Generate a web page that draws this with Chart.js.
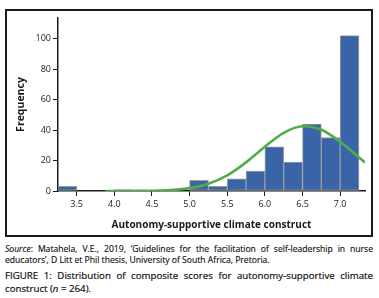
<!DOCTYPE html>
<html>
<head>
<meta charset="utf-8">
<script src="https://cdn.jsdelivr.net/npm/chart.js@4/dist/chart.umd.min.js"></script>
<style>
  html, body { margin: 0; padding: 0; background: #fff; }
  body { width: 379px; height: 298px; position: relative; overflow: hidden; font-family: "Open Sans", sans-serif; color: #111; }
  #frame { position: absolute; left: 5px; top: 9px; width: 364px; height: 224px; border: 2px solid #1a1a1a; }
  #wrap { position: absolute; left: 6px; top: 10px; width: 366px; height: 226px; }
  .cap { position: absolute; left: 5px; width: 368px; text-align: justify; -webkit-text-stroke: 0.15px #111; }
  .cap span { display: block; white-space: nowrap; }
  .cap span.full { text-align-last: justify; white-space: normal; }
  #source { top: 243.5px; font-size: 8.6px; line-height: 11.5px; }
  #figure { top: 268.5px; font-size: 9.7px; line-height: 13px; -webkit-text-stroke: 0.2px #111; }
</style>
</head>
<body>
<div id="frame"></div>
<div id="wrap"><canvas id="histChart"></canvas></div>
<div class="cap" id="source">
  <span class="full"><i>Source</i>: Matahela, V.E., 2019, ‘Guidelines for the facilitation of self-leadership in nurse</span>
  <span>educators’, D Litt et Phil thesis, University of South Africa, Pretoria.</span>
</div>
<div class="cap" id="figure">
  <span class="full">FIGURE 1: Distribution of composite scores for autonomy-supportive climate</span>
  <span>construct (<i>n</i> = 264).</span>
</div>
<script>
// histogram bins (lower edge, width 0.25) and counts
const binStarts = [3.25, 3.5, 3.75, 4.0, 4.25, 4.5, 4.75, 5.0, 5.25, 5.5, 5.75, 6.0, 6.25, 6.5, 6.75, 7.0];
const binWidth = 0.25;
const frequencies = [3, 0, 0, 1, 0, 0, 0, 7, 3, 8, 13, 29, 19, 44, 35, 102];

// fitted normal curve
const curveX = [3.88, 4.0, 4.25, 4.5, 4.75, 5.0, 5.25, 5.5, 5.75, 6.0, 6.25, 6.5, 6.75, 7.0, 7.25, 7.33];
const curveY = [0, 0.01, 0.04, 0.18, 0.65, 1.9, 4.8, 10.3, 18.8, 29.1, 38.2, 42.5, 40.2, 32.3, 22.0, 18.8];

const xTicks = [3.5, 4.0, 4.5, 5.0, 5.5, 6.0, 6.5, 7.0];
const yTicks = [0, 20, 40, 60, 80, 100];

const tickColor = "#1a1a1a";
const tickFont = { family: "Open Sans", size: 9 };

const ctx = document.getElementById("histChart").getContext("2d");

new Chart(ctx, {
  type: "bar",
  data: {
    datasets: [
      {
        type: "line",
        data: curveX.map((x, i) => ({ x: x, y: curveY[i] })),
        borderColor: "#4fae47",
        borderWidth: 2.6,
        pointRadius: 0,
        cubicInterpolationMode: "monotone",
        fill: false,
        order: 0,
      },
      {
        data: binStarts.map((b, i) => ({ x: b + binWidth / 2, y: frequencies[i] })),
        backgroundColor: "#3a64a8",
        borderColor: "#9c9c9c",
        borderWidth: 1,
        borderSkipped: false,
        barPercentage: 1,
        categoryPercentage: 1,
        order: 1,
      },
    ],
  },
  options: {
    responsive: true,
    maintainAspectRatio: false,
    animation: false,
    layout: { padding: { top: 8, right: 7, left: 0, bottom: 0 } },
    plugins: { legend: { display: false }, tooltip: { enabled: false } },
    scales: {
      x: {
        type: "linear",
        min: 3.252,
        max: 7.33,
        offset: false,
        afterBuildTicks: (s) => { s.ticks = xTicks.map((v) => ({ value: v })); },
        afterFit: (s) => { s.height = 45; },
        grid: { offset: false, drawOnChartArea: false, drawTicks: true, tickLength: 5, color: tickColor, lineWidth: 1 },
        border: { display: true, color: tickColor, width: 1.5 },
        ticks: {
          color: tickColor,
          font: tickFont,
          padding: 3,
          maxRotation: 0,
          callback: (v) => Number(v).toFixed(1),
        },
        title: {
          display: true,
          text: "Autonomy-supportive climate construct",
          color: tickColor,
          font: { family: "Open Sans", size: 10, weight: "bold" },
          padding: { top: 0, bottom: 5 },
        },
      },
      y: {
        min: 0,
        max: 113.6,
        afterBuildTicks: (s) => { s.ticks = yTicks.map((v) => ({ value: v })); },
        afterFit: (s) => { s.width = 52; },
        grid: { drawOnChartArea: false, drawTicks: true, tickLength: 5, color: tickColor, lineWidth: 1 },
        border: { display: true, color: tickColor, width: 1.5 },
        ticks: { color: tickColor, font: tickFont, padding: 2 },
        title: {
          display: true,
          text: "Frequency",
          color: tickColor,
          font: { family: "Open Sans", size: 10.5, weight: "bold" },
          padding: { top: 9, bottom: 0 },
        },
      },
    },
  },
});
</script>
</body>
</html>
